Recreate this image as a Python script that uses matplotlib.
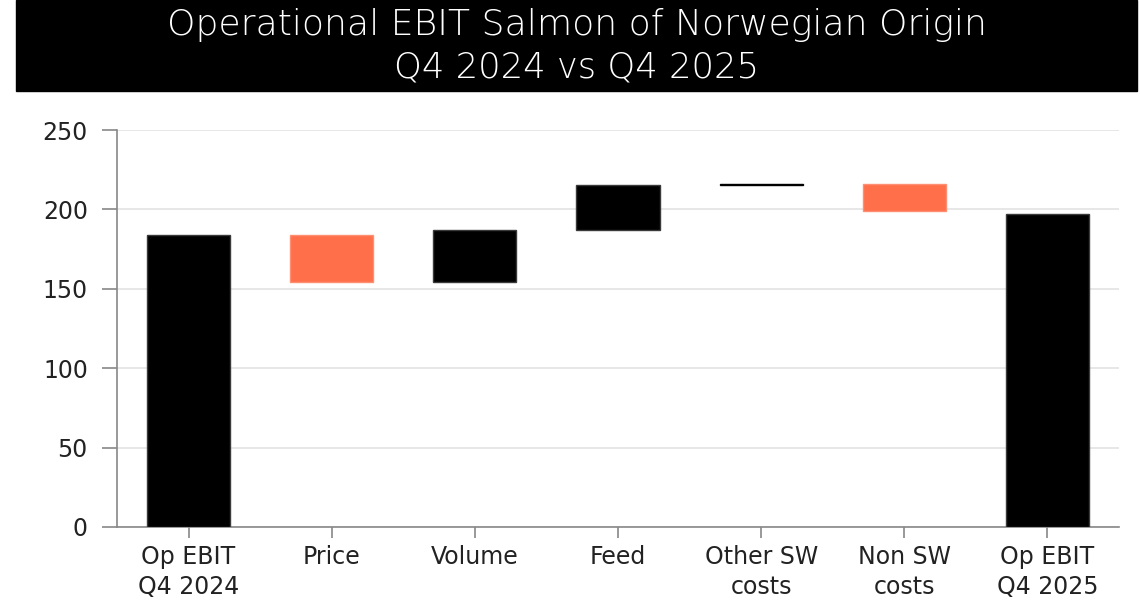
import matplotlib
matplotlib.use("Agg")
import matplotlib.pyplot as plt
from matplotlib.patches import Rectangle

categories = ["Op EBIT\nQ4 2024", "Price", "Volume", "Feed", "Other SW\ncosts", "Non SW\ncosts", "Op EBIT\nQ4 2025"]
start_value = 184.0
deltas = [-29.5, 32.5, 28.5, 0.5, -16.8]
end_value = 197.0
yticks = [0, 50, 100, 150, 200, 250]

BLACK = "#000000"
ORANGE = "#FF6F4A"

plt.rcParams['font.family'] = ['DejaVu Sans']

fig = plt.figure(figsize=(11.4, 6.04), dpi=100)
W, H = 1140, 604

# Title bar
fig.patches.append(Rectangle((16 / W, 1 - 91 / H), (1137 - 16) / W, 91 / H,
                             transform=fig.transFigure, color="black", zorder=0))
fig.text(577 / W, 1 - 25 / H, "Operational EBIT Salmon of Norwegian Origin",
         color="white", fontsize=26, ha="center", va="center", fontweight="light")
fig.text(577 / W, 1 - 68 / H, "Q4 2024 vs Q4 2025",
         color="white", fontsize=25.5, ha="center", va="center", fontweight="light")

ax = fig.add_axes([117 / W, 1 - 527 / H, (1119 - 117) / W, (527 - 130) / H])

# Waterfall
bottoms, heights, colors = [], [], []
bottoms.append(0); heights.append(start_value); colors.append(BLACK)
level = start_value
for d in deltas:
    new = level + d
    bottoms.append(min(level, new))
    heights.append(abs(d))
    colors.append(ORANGE if d < 0 else BLACK)
    level = new
bottoms.append(0); heights.append(end_value); colors.append(BLACK)

x = list(range(len(categories)))
edges = []
for c, h in zip(colors, heights):
    if c == BLACK:
        edges.append("#000000" if h < 2 else "#3a3a3a")
    else:
        edges.append("#FF8F72")
ax.bar(x, heights, bottom=bottoms, width=0.58, color=colors,
       edgecolor=edges, linewidth=1.0, zorder=3)

ax.set_xlim(-0.5, len(categories) - 0.5)
ax.set_ylim(0, 250)
ax.set_yticks(yticks)
ax.set_xticks(x)
ax.set_xticklabels(categories, fontsize=17, color="#222222", linespacing=1.3)
ax.tick_params(axis="y", labelsize=17, labelcolor="#222222", length=11,
               width=1.2, color="#888888", pad=10)
ax.tick_params(axis="x", length=8, width=1.2, color="#888888", pad=5)

ax.grid(axis="y", color="#e3e3e3", linewidth=1.2, zorder=0)
ax.set_axisbelow(True)
for s in ["top", "right"]:
    ax.spines[s].set_visible(False)
for s in ["left", "bottom"]:
    ax.spines[s].set_color("#888888")
    ax.spines[s].set_linewidth(1.2)

fig.savefig("out.png", dpi=100)
